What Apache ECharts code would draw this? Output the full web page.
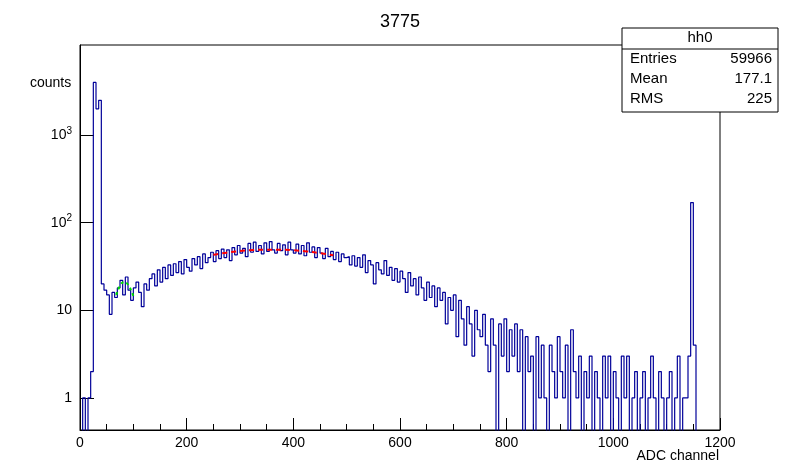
<!DOCTYPE html>
<html><head><meta charset="utf-8">
<script src="https://cdn.jsdelivr.net/npm/echarts@6/dist/echarts.min.js"></script>
<style>html,body{margin:0;padding:0;background:#fff}#c{width:800px;height:475px}</style>
</head><body><div id="c"></div>
<script>
// bin width 5, bin start = 5*i
const binWidth = 5;
const counts = [0,1,0,1,2,4000,2000,2500,20,17,15,9,16,14,18,22,15,24,17,13,
18,21,16,11,20,17,23,26,19,29,21,31,23,33,25,34,27,36,26,38,
31,28,39,33,41,30,44,35,40,46,36,48,39,50,40,49,37,52,43,55,
45,51,41,58,46,60,47,55,44,59,47,61,49,45,58,48,56,43,60,49,
45,57,44,55,42,59,46,53,40,52,45,39,51,41,47,38,46,36,44,40,
41,33,42,32,40,31,43,27,37,33,20,35,29,26,37,25,31,22,30,21,
28,23,16,27,19,23,15,24,18,13,21,14,19,11,18,13,16,7,14,10,
15,5,13,8,4,11,7,3,10,6,5,9,4,2,8,4,0,7,3,8,
2,6,3,7,2,6,0,5,2,3,0,5,1,4,1,0,4,2,1,5,
2,1,4,0,6,2,1,3,0,2,1,3,0,2,1,0,3,1,3,0,
2,1,0,3,1,3,0,1,2,0,1,2,0,1,3,1,0,2,1,0,
1,2,0,1,3,0,1,1,3,170,4,0,0,0,0,0,0,0,0,0];
const fitGreenX = [68,72,76,80,84,88,92,96,100];
const fitGreenY = [15,17.5,19.5,20.8,21,20.3,18.8,16.8,14.6];
const fitRedX = [250,275,300,325,350,375,400,425,450,475];
const fitRedY = [43,45.5,47.5,48.8,49.3,49.2,48.5,47,45,42.5];
const stats = [['Entries','59966'],['Mean','177.1'],['RMS','225']];
const yTickValues = [1,10,100,1000];
const yTicks = {1:'1',10:'10',100:'10{s|2}',1000:'10{s|3}'};

const histData = counts.map((v,i)=>[i*binWidth, v>0?v:0.01]);
histData.push([counts.length*binWidth, 0.01]);
const col = '#000099';
const chart = echarts.init(document.getElementById('c'));
const F = '"Liberation Sans", Arial';
const statsGraphics = [{type:'rect',shape:{x:622,y:28,width:156,height:84},style:{fill:'#fff',stroke:'#000',lineWidth:1}},
 {type:'line',shape:{x1:622,y1:49,x2:778,y2:49},style:{stroke:'#000'}},
 {type:'text',x:700,y:38,style:{text:'hh0',font:'15px '+F,fill:'#000',align:'center',verticalAlign:'middle'}}];
stats.forEach((s,i)=>{
 statsGraphics.push({type:'text',x:630,y:59+i*20,style:{text:s[0],font:'15px '+F,fill:'#000',verticalAlign:'middle'}});
 statsGraphics.push({type:'text',x:772,y:59+i*20,style:{text:s[1],font:'15px '+F,fill:'#000',align:'right',verticalAlign:'middle'}});
});
chart.setOption({
 animation:false,
 title:{text:'3775',left:'center',top:8,textStyle:{fontFamily:'Liberation Sans',fontWeight:'normal',fontSize:18,color:'#000'}},
 grid:{left:80,right:80,top:45,bottom:45,show:true,borderColor:'#000',borderWidth:1,containLabel:false,outerBoundsMode:'none'},
 xAxis:{type:'value',min:0,max:1200,interval:200,
  axisLine:{lineStyle:{color:'#000'}},axisTick:{inside:true,length:12,lineStyle:{color:'#000'}},
  minorTick:{show:true,splitNumber:4,length:6,lineStyle:{color:'#000'}},
  axisLabel:{fontFamily:'Liberation Sans',fontSize:14,color:'#000',margin:6,formatter:v=>String(v)},splitLine:{show:false}},
 yAxis:{type:'log',logBase:10,min:0.43,max:10700,
  axisLine:{show:true,lineStyle:{color:'#000'}},
  axisTick:{inside:true,length:14,lineStyle:{color:'#000'},customValues:yTickValues},
  axisLabel:{fontFamily:'Liberation Sans',fontSize:14,color:'#000',margin:8,customValues:yTickValues,
   formatter:v=>yTicks[Math.round(v)]||'',
   rich:{s:{fontSize:10,verticalAlign:'top',padding:[0,0,8,0],fontFamily:'Liberation Sans'}}},
  splitLine:{show:false}},
 graphic:[{type:'text',x:30,y:76,style:{text:'counts',font:'14px '+F,fill:'#000'}},
  {type:'text',x:719,y:449,style:{text:'ADC channel',font:'14px '+F,fill:'#000',align:'right'}}].concat(statsGraphics),
 series:[
  {type:'line',step:'end',data:histData,symbol:'none',clip:true,lineStyle:{color:col,width:1.2}},
  {type:'line',data:fitGreenX.map((x,i)=>[x,fitGreenY[i]]),symbol:'none',smooth:true,lineStyle:{color:'#00dd00',width:2,type:[3,3]}},
  {type:'line',data:fitRedX.map((x,i)=>[x,fitRedY[i]]),symbol:'none',smooth:true,lineStyle:{color:'#ff0000',width:2,type:[5,4]}}
 ]
});
</script></body></html>
